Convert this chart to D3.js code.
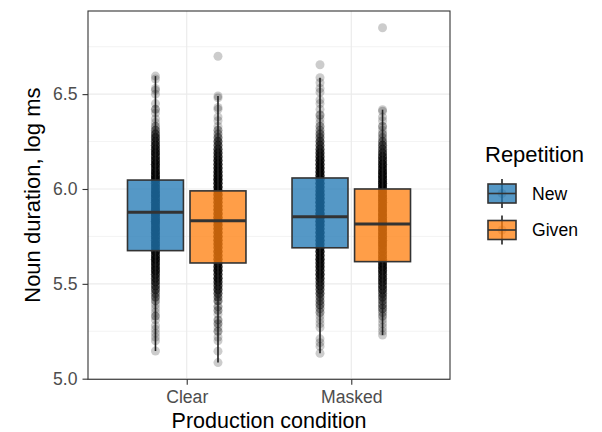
<!DOCTYPE html>
<html>
<head>
<meta charset="utf-8">
<script src="https://cdn.jsdelivr.net/npm/d3@7"></script>
<style>
  body { margin: 0; background: #fff; }
  text { font-family: "Liberation Sans", Arial, Helvetica, sans-serif; }
</style>
</head>
<body>
<div class="chart"></div>
<script>
var conditions = ["Clear", "Masked"];
var repetitions = ["New", "Given"];
var colors = ["#1F77B4", "#FF7F0E"];
var yTicks = [5.0, 5.5, 6.0, 6.5];
var yMinor = [5.25, 5.75, 6.25, 6.75];

// box stats: lower whisker, q1, median, q3, upper whisker
var clearNewBox = [5.146, 5.675, 5.878, 6.047, 6.595];
var clearGivenBox = [5.085, 5.61, 5.832, 5.99, 6.49];
var maskedNewBox = [5.134, 5.69, 5.853, 6.058, 6.587];
var maskedGivenBox = [5.23, 5.617, 5.816, 6.0, 6.418];

// raw durations as [value, count]
var clearNewPts = [
  [6.595,1],[6.58,1],[6.53,1],[6.52,1],[6.50,1],[6.45,1],[6.42,2],[6.40,1],[6.37,1],[6.35,1],[6.33,2],
  [6.31,3],[6.29,4],[6.27,5],[6.25,5],[6.23,6],[6.21,6],[6.19,7],[6.17,6],[6.15,7],[6.13,8],[6.11,7],[6.09,8],[6.07,8],[6.05,9],
  [6.03,8],[6.01,9],[5.99,9],[5.97,10],[5.95,9],[5.93,10],[5.91,10],[5.89,11],[5.87,10],[5.85,10],[5.83,11],[5.81,9],[5.79,10],[5.77,9],[5.75,9],[5.73,8],[5.71,9],[5.69,8],
  [5.67,8],[5.65,7],[5.63,8],[5.61,7],[5.59,6],[5.57,7],[5.55,6],[5.53,5],[5.51,5],[5.49,4],[5.47,4],[5.45,3],[5.43,3],[5.41,2],
  [5.39,1],[5.37,1],[5.35,1],[5.33,2],[5.31,1],[5.28,1],[5.26,1],[5.24,1],[5.22,1],[5.20,1],[5.146,1]
];
var clearGivenPts = [
  [6.70,1],[6.49,1],[6.48,1],[6.43,1],[6.42,1],[6.38,1],[6.36,1],[6.33,1],[6.31,2],[6.29,2],
  [6.27,3],[6.25,4],[6.23,4],[6.21,5],[6.19,6],[6.17,6],[6.15,7],[6.13,7],[6.11,8],[6.09,8],[6.07,8],[6.05,9],[6.03,8],[6.01,9],
  [5.99,9],[5.97,10],[5.95,10],[5.93,9],[5.91,10],[5.89,11],[5.87,10],[5.85,10],[5.83,11],[5.81,10],[5.79,10],[5.77,9],[5.75,10],[5.73,9],[5.71,9],[5.69,8],[5.67,9],[5.65,8],[5.63,8],[5.61,7],
  [5.59,7],[5.57,8],[5.55,6],[5.53,7],[5.51,6],[5.49,5],[5.47,5],[5.45,4],[5.43,3],[5.41,3],
  [5.38,2],[5.36,2],[5.34,1],[5.31,2],[5.29,2],[5.27,1],[5.25,2],[5.22,1],[5.20,1],[5.145,1],[5.085,1]
];
var maskedNewPts = [
  [6.655,1],[6.587,1],[6.56,1],[6.53,1],[6.51,1],[6.47,1],[6.45,1],[6.42,1],[6.39,2],[6.37,1],[6.35,1],[6.33,2],[6.31,2],
  [6.29,3],[6.27,3],[6.25,4],[6.23,4],[6.21,5],[6.19,6],[6.17,6],[6.15,7],[6.13,7],[6.11,8],[6.09,8],[6.07,8],
  [6.05,8],[6.03,9],[6.01,9],[5.99,9],[5.97,10],[5.95,10],[5.93,11],[5.91,10],[5.89,10],[5.87,11],[5.85,10],[5.83,10],[5.81,10],[5.79,9],[5.77,10],[5.75,9],[5.73,9],[5.71,8],[5.69,8],
  [5.67,8],[5.65,7],[5.63,8],[5.61,7],[5.59,7],[5.57,6],[5.55,7],[5.53,6],[5.51,5],[5.49,5],[5.47,4],[5.45,4],[5.43,3],[5.41,3],[5.39,3],[5.37,2],[5.35,2],
  [5.33,1],[5.31,1],[5.29,1],[5.27,1],[5.21,1],[5.19,1],[5.17,1],[5.134,1]
];
var maskedGivenPts = [
  [6.85,1],[6.418,1],[6.41,1],[6.38,1],[6.36,1],[6.33,2],[6.31,1],[6.29,2],[6.27,2],
  [6.25,3],[6.23,4],[6.21,4],[6.19,5],[6.17,6],[6.15,6],[6.13,7],[6.11,7],[6.09,8],[6.07,8],[6.05,8],[6.03,9],[6.01,9],
  [5.99,9],[5.97,9],[5.95,10],[5.93,10],[5.91,10],[5.89,11],[5.87,10],[5.85,10],[5.83,11],[5.81,10],[5.79,10],[5.77,9],[5.75,10],[5.73,9],[5.71,9],[5.69,8],[5.67,8],[5.65,8],[5.63,8],
  [5.61,7],[5.59,7],[5.57,7],[5.55,6],[5.53,6],[5.51,6],[5.49,5],[5.47,5],[5.45,4],[5.43,4],[5.41,3],[5.39,3],[5.37,3],[5.35,2],[5.33,2],
  [5.31,1],[5.29,1],[5.27,1],[5.25,1],[5.23,1]
];

var groups = [
  { cond: "Clear", rep: "New", box: clearNewBox, pts: clearNewPts },
  { cond: "Clear", rep: "Given", box: clearGivenBox, pts: clearGivenPts },
  { cond: "Masked", rep: "New", box: maskedNewBox, pts: maskedNewPts },
  { cond: "Masked", rep: "Given", box: maskedGivenBox, pts: maskedGivenPts },
];

var margin = { top: 11, left: 88 };
var width = 362;
var height = 368.3;

var svg = d3
  .select(".chart")
  .append("svg")
  .attr("width", 602)
  .attr("height", 432);

var g = svg.append("g").attr("transform", `translate(${margin.left}, ${margin.top})`);

// ggplot-style 5% expansion around the data
var allVals = groups.flatMap((d) => d.pts.map((p) => p[0]));
var lo = d3.min(allVals), hi = d3.max(allVals), pad = (hi - lo) * 0.05;

var xScale = d3.scalePoint().domain(conditions).range([0, width]).padding(0.6);
var step = xScale.step();
var dodge = d3.scalePoint().domain(repetitions).range([-0.19 * step, 0.19 * step]);
var boxW = 0.34 * step;
var yScale = d3.scaleLinear().domain([lo - pad, hi + pad]).range([height, 0]);
var color = d3.scaleOrdinal().domain(repetitions).range(colors);

// grid
g.selectAll(".minor").data(yMinor).enter().append("line")
  .attr("x1", 0).attr("x2", width)
  .attr("y1", (d) => yScale(d)).attr("y2", (d) => yScale(d))
  .attr("stroke", "#EBEBEB").attr("stroke-width", 0.6);
g.selectAll(".major").data(yTicks).enter().append("line")
  .attr("x1", 0).attr("x2", width)
  .attr("y1", (d) => yScale(d)).attr("y2", (d) => yScale(d))
  .attr("stroke", "#EBEBEB").attr("stroke-width", 1.2);
g.selectAll(".vmajor").data(conditions).enter().append("line")
  .attr("x1", (d) => xScale(d)).attr("x2", (d) => xScale(d))
  .attr("y1", 0).attr("y2", height)
  .attr("stroke", "#EBEBEB").attr("stroke-width", 1.2);

// points
groups.forEach(function (grp) {
  var cx = xScale(grp.cond) + dodge(grp.rep);
  var vals = grp.pts.flatMap((p) => d3.range(p[1]).map(() => p[0]));
  g.append("g").selectAll("circle").data(vals).enter().append("circle")
    .attr("cx", cx)
    .attr("cy", (d) => yScale(d))
    .attr("r", 4.5)
    .attr("fill", "#000")
    .attr("fill-opacity", 0.2);
});

// boxplots
groups.forEach(function (grp) {
  var cx = xScale(grp.cond) + dodge(grp.rep);
  var b = grp.box;
  var bg = g.append("g");
  bg.append("line").attr("x1", cx).attr("x2", cx)
    .attr("y1", yScale(b[3])).attr("y2", yScale(b[4]))
    .attr("stroke", "#222").attr("stroke-width", 1.6);
  bg.append("line").attr("x1", cx).attr("x2", cx)
    .attr("y1", yScale(b[1])).attr("y2", yScale(b[0]))
    .attr("stroke", "#222").attr("stroke-width", 1.6);
  bg.append("rect")
    .attr("x", cx - boxW / 2).attr("width", boxW)
    .attr("y", yScale(b[3])).attr("height", yScale(b[1]) - yScale(b[3]))
    .attr("fill", color(grp.rep)).attr("fill-opacity", 0.76)
    .attr("stroke", "#333").attr("stroke-width", 1.6);
  bg.append("line").attr("x1", cx - boxW / 2).attr("x2", cx + boxW / 2)
    .attr("y1", yScale(b[2])).attr("y2", yScale(b[2]))
    .attr("stroke", "#333").attr("stroke-width", 3);
});

// panel border
g.append("rect").attr("width", width).attr("height", height)
  .attr("fill", "none").attr("stroke", "#333").attr("stroke-width", 1.1);

// axes
var yAxis = g.append("g")
  .call(d3.axisLeft(yScale).tickValues(yTicks).tickFormat(d3.format(".1f")).tickSize(5.5).tickPadding(5));
var xAxis = g.append("g").attr("transform", `translate(0, ${height})`)
  .call(d3.axisBottom(xScale).tickSize(5.5).tickPadding(6));
[yAxis, xAxis].forEach(function (ax) {
  ax.select(".domain").remove();
  ax.selectAll(".tick line").attr("stroke", "#333").attr("stroke-width", 1.1);
  ax.selectAll(".tick text").attr("fill", "#4D4D4D").style("font-size", "17.6px")
    .style("font-family", '"Liberation Sans", Arial, sans-serif');
});

// axis titles
svg.append("text")
  .attr("x", margin.left + width / 2).attr("y", 427.5)
  .attr("text-anchor", "middle").style("font-size", "21.5px")
  .text("Production condition");
svg.append("text")
  .attr("transform", `translate(40, ${margin.top + height / 2}) rotate(-90)`)
  .attr("text-anchor", "middle").style("font-size", "22px")
  .text("Noun duration, log ms");

// legend
var legend = svg.append("g").attr("transform", "translate(485, 0)");
legend.append("text").attr("x", 0).attr("y", 162).style("font-size", "22px").text("Repetition");
var keys = legend.selectAll(".key").data(repetitions).enter().append("g")
  .attr("transform", (d, i) => `translate(17, ${193.5 + i * 36.5})`);
keys.append("line").attr("y1", -14.5).attr("y2", 14.5)
  .attr("stroke", "#222").attr("stroke-width", 1.6);
keys.append("circle").attr("r", 4.5).attr("fill", "#000").attr("fill-opacity", 0.2);
keys.append("rect").attr("x", -14).attr("y", -9.5).attr("width", 28).attr("height", 19)
  .attr("fill", (d) => color(d)).attr("fill-opacity", 0.76)
  .attr("stroke", "#333").attr("stroke-width", 1.6);
keys.append("line").attr("x1", -14).attr("x2", 14)
  .attr("stroke", "#333").attr("stroke-width", 1.6);
keys.append("text").attr("x", 30).attr("dy", "0.35em")
  .style("font-size", "17.6px").text((d) => d);
</script>
</body>
</html>
